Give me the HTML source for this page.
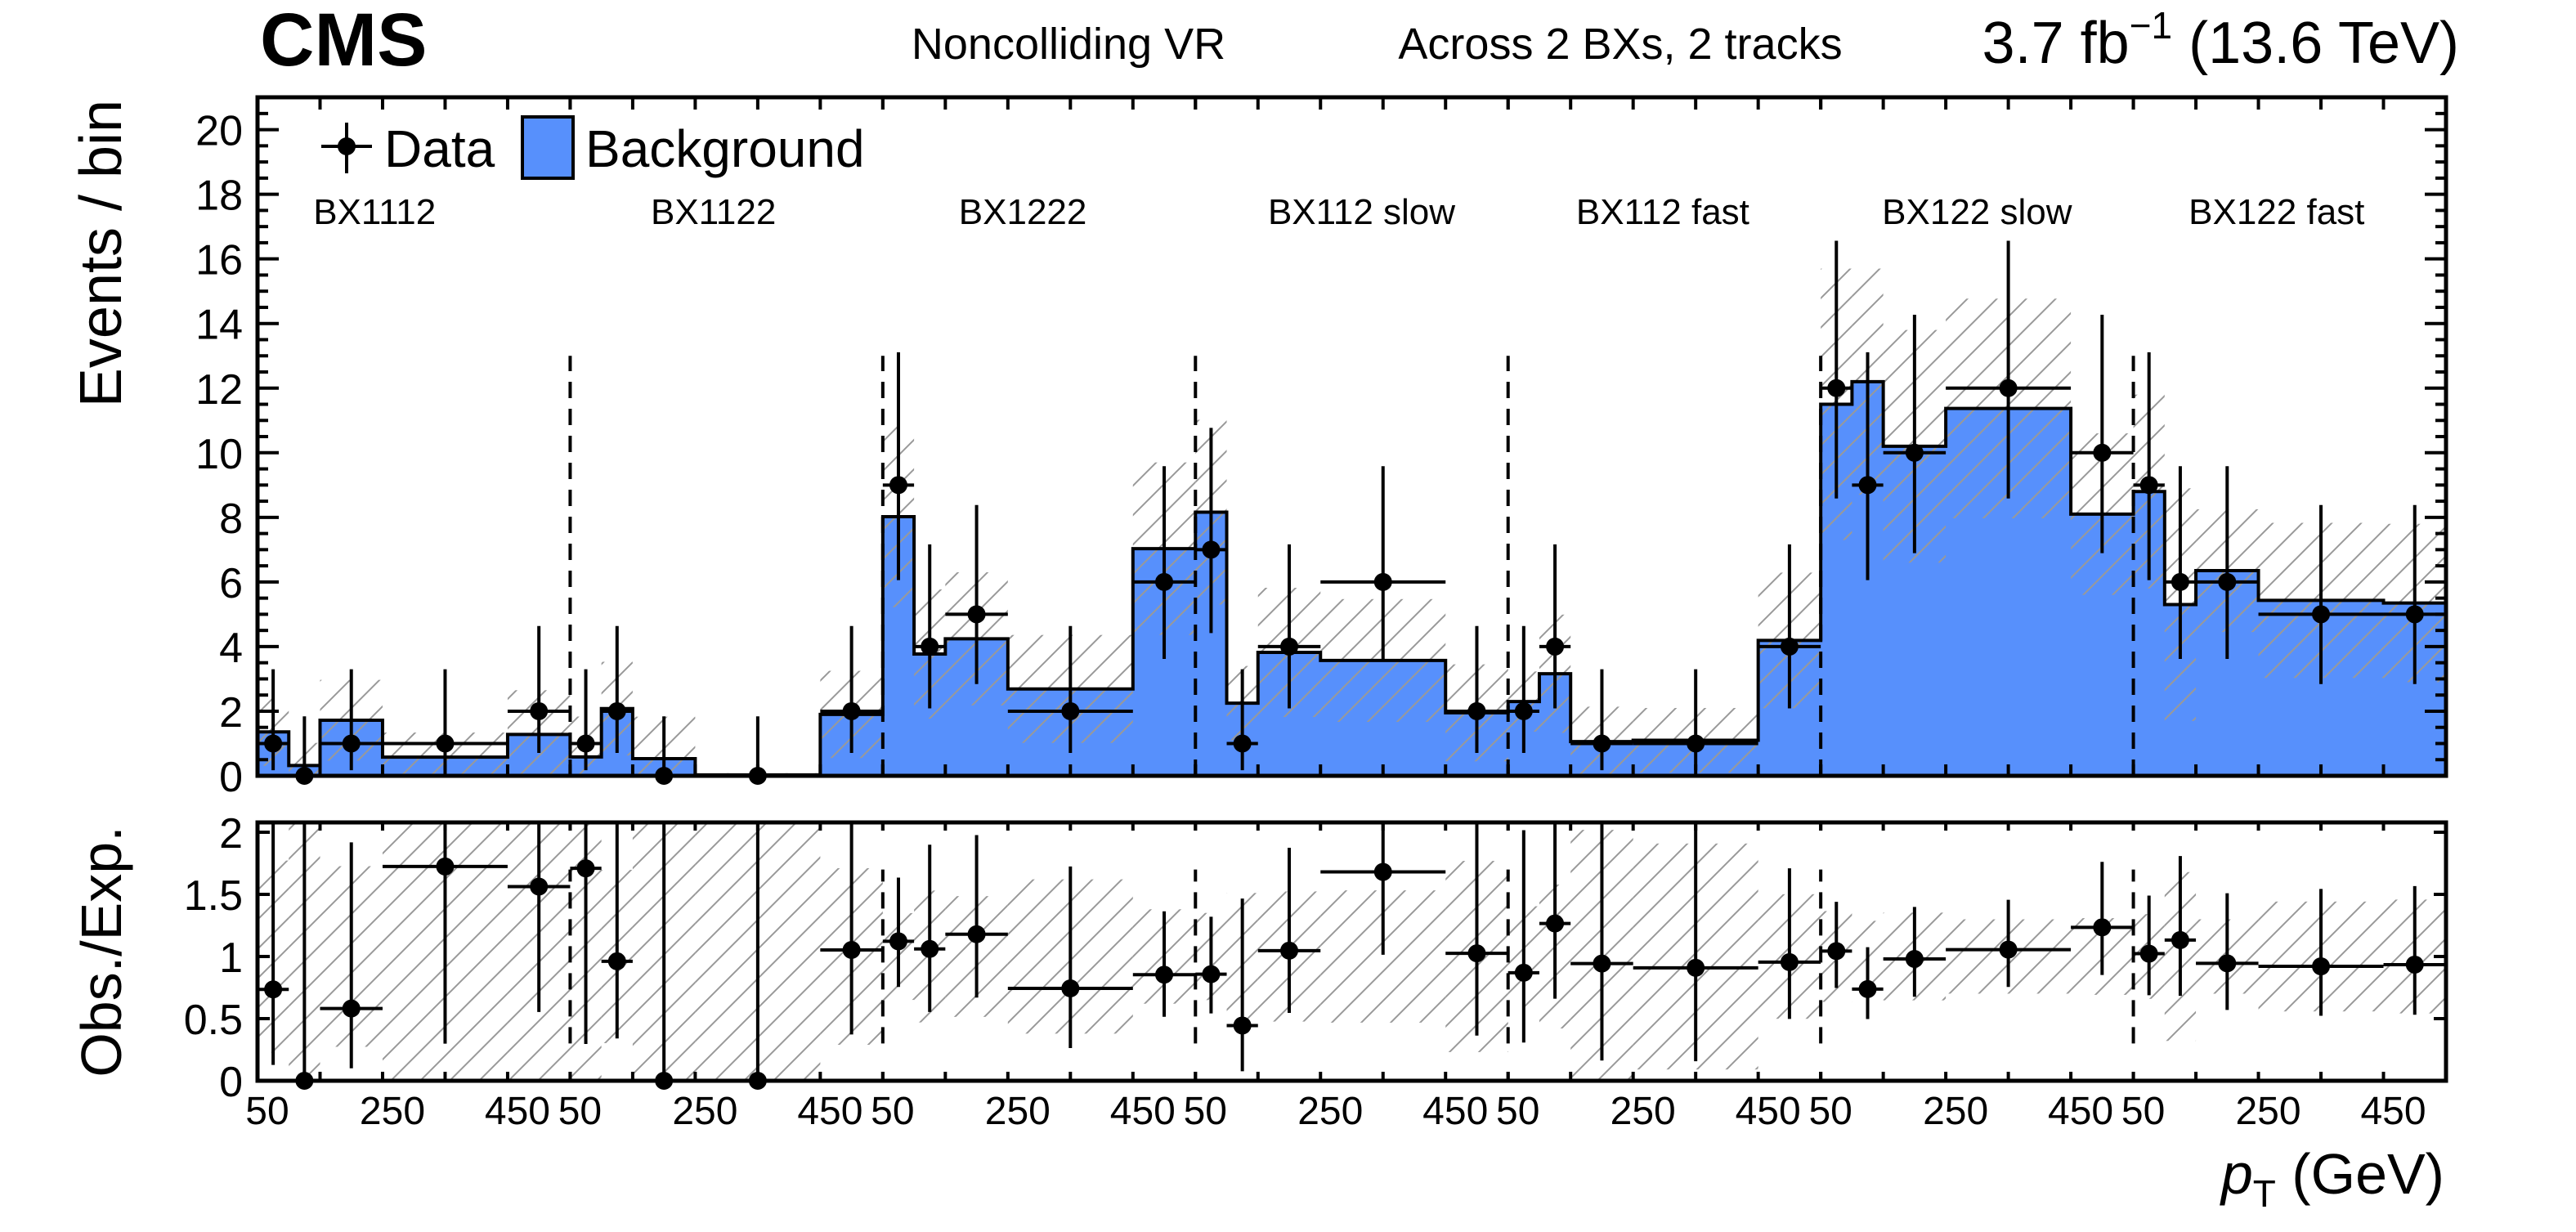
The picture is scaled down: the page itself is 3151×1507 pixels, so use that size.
<!DOCTYPE html>
<html><head><meta charset="utf-8"><style>
html,body{margin:0;padding:0;background:#fff;}
svg{display:block;font-family:"Liberation Sans",sans-serif;}
</style></head><body>
<svg id="chart" width="3151" height="1507" viewBox="0 0 3151 1507" xmlns="http://www.w3.org/2000/svg">
<defs>
<pattern id="hatch" patternUnits="userSpaceOnUse" width="36" height="36">
<path d="M-9,9 L9,-9 M0,36 L36,0 M27,45 L45,27" stroke="#999" stroke-width="2"/>
</pattern>
<clipPath id="clipTop"><rect x="315" y="119" width="2677" height="830"/></clipPath>
<clipPath id="clipBot"><rect x="315" y="1006" width="2677" height="316"/></clipPath>
</defs>
<text x="318" y="80" font-size="92" font-weight="bold">CMS</text>
<text x="1307" y="72" font-size="54" text-anchor="middle">Noncolliding VR</text>
<text x="1982" y="72" font-size="54" text-anchor="middle">Across 2 BXs, 2 tracks</text>
<text x="3008" y="77" font-size="72" text-anchor="end">3.7 fb<tspan dy="-30" font-size="46">−1</tspan><tspan dy="30"> (13.6 TeV)</tspan></text>
<g id="plot"></g>
<text transform="translate(148,310) rotate(-90)" font-size="72" text-anchor="middle">Events / bin</text>
<text transform="translate(148,1164) rotate(-90)" font-size="70" text-anchor="middle">Obs./Exp.</text>
<text x="2990" y="1460" font-size="70" text-anchor="end"><tspan font-style="italic">p</tspan><tspan font-size="46" dy="16">T</tspan><tspan dy="-16"> (GeV)</tspan></text>
<g>
<line x1="393" y1="179" x2="455" y2="179" stroke="#000" stroke-width="4"/>
<line x1="424" y1="150" x2="424" y2="212" stroke="#000" stroke-width="4"/>
<circle cx="424" cy="179" r="11" fill="#000"/>
<text x="470" y="204" font-size="64">Data</text>
<rect x="639" y="143" width="62" height="75" fill="#5790fc" stroke="#000" stroke-width="4"/>
<text x="716" y="204" font-size="64">Background</text>
</g>
</svg>
<script>
const regionNames = ["BX1112","BX1122","BX1222","BX112 slow","BX112 fast","BX122 slow","BX122 fast"];
const regionLabelShift = [-48,-16,-20,12,-2,0,-16];
const binEdges = [50,100,150,250,450,550];
const background = [1.36,0.32,1.72,0.58,1.28, 0.585,2.08,0.53,0.03,1.9, 8.02,3.77,4.24,2.69,7.03, 8.16,2.25,3.82,3.57,1.95, 2.3,3.16,1.06,1.1,4.19, 11.5,12.2,10.2,11.37,8.1, 8.8,5.3,6.35,5.43,5.35];
const dataCounts = [1,0,1,1,2, 1,2,0,0,2, 9,4,5,2,6, 7,1,4,6,2, 2,4,1,1,4, 12,9,10,12,10, 9,6,6,5,5];
const bkgUnc = [1.05,0.7,1.25,0.76,1.37, 1.25,1.45,1.3,0.05,1.35, 2.8,2.0,2.06,1.67,2.67, 2.86,1.15,2.0,1.9,1.5, 0.93,1.83,1.08,1.0,2.1, 4.2,3.5,3.6,3.4,2.5, 3.0,3.6,1.9,2.4,2.45];
const yTicksTop = [0,2,4,6,8,10,12,14,16,18,20];
const yTicksRatio = [0,0.5,1,1.5,2];
const yTickLabelsRatio = ["0","0.5","1","1.5","2"];
const xTickLabels = ["50","250","450"];
const xTickLabelValues = [50,250,450];
const garwoodLo = [0,0.173,0.708,1.367,2.086,2.840,3.620,4.419,5.232,6.057,6.891,7.734,8.585];
const garwoodHi = [1.841,3.300,4.638,5.918,7.163,8.382,9.584,10.77,11.95,13.11,14.27,15.42,16.56];

const NS="http://www.w3.org/2000/svg";
const L=315,R=2992,TOP0=949,TOPU=39.52,TOPMAX=21,BOT0=1322,BOTU=152,BOTMAX=2.079;
const W=(R-L)/regionNames.length;
const g=document.getElementById('plot');
function xs(r,gev){return L+r*W+(gev-50)/500*W;}
function yt(v){return TOP0-Math.min(Math.max(v,0),TOPMAX)*TOPU;}
function yb(v){return BOT0-Math.min(Math.max(v,0),BOTMAX)*BOTU;}
function mk(tag,attrs,parent){const e=document.createElementNS(NS,tag);for(const k in attrs)e.setAttribute(k,attrs[k]);(parent||g).appendChild(e);return e;}
const nb=binEdges.length-1;
function binX(i){const r=Math.floor(i/nb),b=i%nb;return [xs(r,binEdges[b]),xs(r,binEdges[b+1]),xs(r,(binEdges[b]+binEdges[b+1])/2)];}
function errs(n){if(n<garwoodLo.length)return [garwoodLo[n],garwoodHi[n]];return [n-Math.sqrt(n),n+Math.sqrt(n)];}

let d="M"+L+","+TOP0;
background.forEach((v,i)=>{const [x0,x1]=binX(i);d+=" L"+x0+","+yt(v)+" L"+x1+","+yt(v);});
d+=" L"+R+","+TOP0+" Z";
const fill=mk('path',{d:d,fill:'#5790fc'});


const hatchTop=mk('g',{'clip-path':'url(#clipTop)'});


const hatchBot=mk('g',{'clip-path':'url(#clipBot)'});


background.forEach((v,i)=>{
  const [x0,x1]=binX(i);
  const a=yt(v+bkgUnc[i]),b=yt(v-bkgUnc[i]);
  const r1=mk('rect',{x:x0,y:a,width:x1-x0,height:b-a,fill:'url(#hatch)'},hatchTop);
  
  
  const rel=v>0?bkgUnc[i]/v:10;
  const c=yb(1+rel),e=yb(1-rel);
  const r2=mk('rect',{x:x0,y:c,width:x1-x0,height:e-c,fill:'url(#hatch)'},hatchBot);
  
  
});
let o="M"+L+","+TOP0;
background.forEach((v,i)=>{const [x0,x1]=binX(i);o+=" L"+x0+","+yt(v)+" L"+x1+","+yt(v);});
o+=" L"+R+","+TOP0;
const outline=mk('path',{d:o,fill:'none',stroke:'#000','stroke-width':4});


for(let r=1;r<regionNames.length;r++){
  const x=L+r*W;
  const l1=mk('line',{x1:x,y1:TOP0,x2:x,y2:yt(13),stroke:'#000','stroke-width':4,'stroke-dasharray':'20 13'});
  
  
  const l2=mk('line',{x1:x,y1:yb(0.3),x2:x,y2:yb(1.7),stroke:'#000','stroke-width':4,'stroke-dasharray':'20 13'});
  
  
}
regionNames.forEach((n,r)=>{
  const t=mk('text',{x:L+r*W+W/2+regionLabelShift[r],y:274,'font-size':44,'text-anchor':'middle'});
  t.textContent=n;
  
  
});
dataCounts.forEach((n,i)=>{
  const [x0,x1,xc]=binX(i);
  const [lo,hi]=errs(n);
  const grp=mk('g',{});
  
  
  mk('line',{x1:x0,x2:x1,y1:yt(n),y2:yt(n),stroke:'#000','stroke-width':4},grp);
  mk('line',{x1:xc,x2:xc,y1:yt(lo),y2:yt(hi),stroke:'#000','stroke-width':4},grp);
  mk('circle',{cx:xc,cy:yt(n),r:11,fill:'#000'},grp);
  const bk=background[i];
  const rv=n/bk,rlo=lo/bk,rhi=hi/bk;
  const rg=mk('g',{'clip-path':'url(#clipBot)'});
  
  
  mk('line',{x1:x0,x2:x1,y1:yb(rv),y2:yb(rv),stroke:'#000','stroke-width':4},rg);
  mk('line',{x1:xc,x2:xc,y1:yb(rlo),y2:yb(rhi),stroke:'#000','stroke-width':4},rg);
  const dot=mk('circle',{cx:xc,cy:yb(rv),r:11,fill:'#000'});
  
  
});
const f1=mk('rect',{x:L,y:119,width:R-L,height:TOP0-119,fill:'none',stroke:'#000','stroke-width':5});


const f2=mk('rect',{x:L,y:1006,width:R-L,height:BOT0-1006,fill:'none',stroke:'#000','stroke-width':5});


const ticks=mk('g',{stroke:'#000','stroke-width':4});


for(let r=0;r<regionNames.length;r++){
  for(let gev=50;gev<=550;gev+=100){
    const x=xs(r,gev);
    mk('line',{x1:x,x2:x,y1:119,y2:134},ticks);
    mk('line',{x1:x,x2:x,y1:TOP0,y2:TOP0-14},ticks);
    mk('line',{x1:x,x2:x,y1:1006,y2:1016},ticks);
    mk('line',{x1:x,x2:x,y1:BOT0,y2:BOT0-11},ticks);
  }
}
for(let v=0;v<=TOPMAX+1e-6;v+=0.5){
  const major=Math.abs(v/2-Math.round(v/2))<1e-6;
  const len=major?26:13;
  mk('line',{x1:L,x2:L+len,y1:yt(v),y2:yt(v)},ticks);
  mk('line',{x1:R,x2:R-len,y1:yt(v),y2:yt(v)},ticks);
}
yTicksRatio.forEach(v=>{
  mk('line',{x1:L,x2:L+15,y1:yb(v),y2:yb(v)},ticks);
  mk('line',{x1:R,x2:R-15,y1:yb(v),y2:yb(v)},ticks);
});
yTicksTop.forEach(v=>{
  const t=mk('text',{x:297,y:yt(v)+19,'font-size':52,'text-anchor':'end'});
  t.textContent=String(v);
  
  
});
yTicksRatio.forEach((v,k)=>{
  const t=mk('text',{x:297,y:yb(v)+19,'font-size':52,'text-anchor':'end'});
  t.textContent=yTickLabelsRatio[k];
  
  
});
for(let r=0;r<regionNames.length;r++){
  xTickLabels.forEach((lab,k)=>{
    const t=mk('text',{x:xs(r,xTickLabelValues[k])+12,y:1375,'font-size':48,'text-anchor':'middle'});
    t.textContent=lab;
    
    
  });
}
</script>
</body></html>
